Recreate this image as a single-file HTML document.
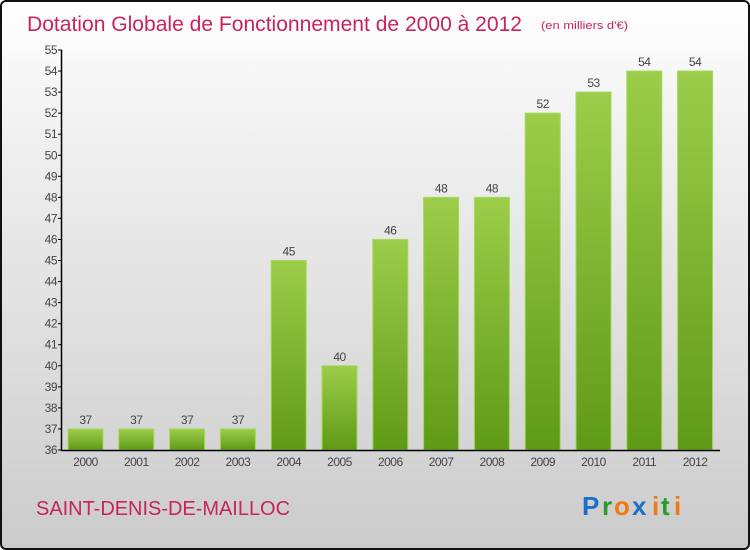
<!DOCTYPE html>
<html><head><meta charset="utf-8"><style>
body{margin:0;width:750px;height:550px;overflow:hidden;font-family:"Liberation Sans",sans-serif}
#frame{position:absolute;left:0;top:0;width:746px;height:546px;border:2px solid #111;border-radius:6px;background:linear-gradient(#ffffff,#f0f0f0 25%,#d8d8d8 75%,#cbcbcb)}
</style></head><body>
<div id="frame"></div>
<svg id="c" width="750" height="550" style="position:absolute;left:0;top:0">
<defs><linearGradient id="g" x1="0" y1="0" x2="0" y2="1"><stop offset="0" stop-color="#9ccd4a"/><stop offset="1" stop-color="#5f9a17"/></linearGradient></defs>
<text x="27" y="31" font-size="21" fill="#c8245a" textLength="495" lengthAdjust="spacingAndGlyphs">Dotation Globale de Fonctionnement de 2000 à 2012</text>
<text x="541" y="29" font-size="11" fill="#c8245a" textLength="87" lengthAdjust="spacingAndGlyphs">(en milliers d'€)</text>
<text x="36" y="515" font-size="20" fill="#c8245a" textLength="254" lengthAdjust="spacingAndGlyphs">SAINT-DENIS-DE-MAILLOC</text>
<g font-size="26" font-weight="bold"><text x="582" y="515" fill="#1a6fc9">P</text><text x="602" y="515" fill="#2a9a2a">r</text><text x="614" y="515" fill="#f07a10">o</text><text x="632" y="515" fill="#1a6fc9">x</text><text x="652" y="515" fill="#f07a10">i</text><text x="661" y="515" fill="#2a9a2a">t</text><text x="674" y="515" fill="#f07a10">i</text></g>
</svg>
<script>
const years=["2000","2001","2002","2003","2004","2005","2006","2007","2008","2009","2010","2011","2012"];
const values=[37,37,37,37,45,40,46,48,48,52,53,54,54];
const yTicks=[36,37,38,39,40,41,42,43,44,45,46,47,48,49,50,51,52,53,54,55];
const svg=document.getElementById('c'),NS="http://www.w3.org/2000/svg";
const y=v=>450-(v-36)*400/19, x=i=>85.5+i*50.8;
function mk(t,a,txt){const e=document.createElementNS(NS,t);for(const k in a)e.setAttribute(k,a[k]);if(txt!=null)e.textContent=txt;svg.appendChild(e);return e;}
yTicks.forEach(v=>{
 const t=mk('line',{x1:58,x2:62,y1:y(v),y2:y(v),stroke:'#000'});
 
 
 const l=mk('text',{x:57,y:y(v)+4,'text-anchor':'end','font-size':12,fill:'#444','letter-spacing':'-0.5'},v);
 
 
});
values.forEach((v,i)=>{
 const r=mk('rect',{x:x(i)-17.5,y:y(v),width:35,height:450-y(v),fill:'url(#g)',stroke:'#a6d95a','stroke-width':1});
 
 
 const t=mk('text',{x:x(i),y:y(v)-5,'text-anchor':'middle','font-size':12,fill:'#444','letter-spacing':'-0.5'},v);
 
 
 const xl=mk('text',{x:x(i),y:466,'text-anchor':'middle','font-size':12,fill:'#444','letter-spacing':'-0.5'},years[i]);
 
 
});
const ya=mk('line',{x1:61.5,x2:61.5,y1:y(55),y2:451,stroke:'#000','stroke-width':1.5});


const xa=mk('line',{x1:61,x2:720,y1:450.5,y2:450.5,stroke:'#000','stroke-width':1.5});


</script>
</body></html>
